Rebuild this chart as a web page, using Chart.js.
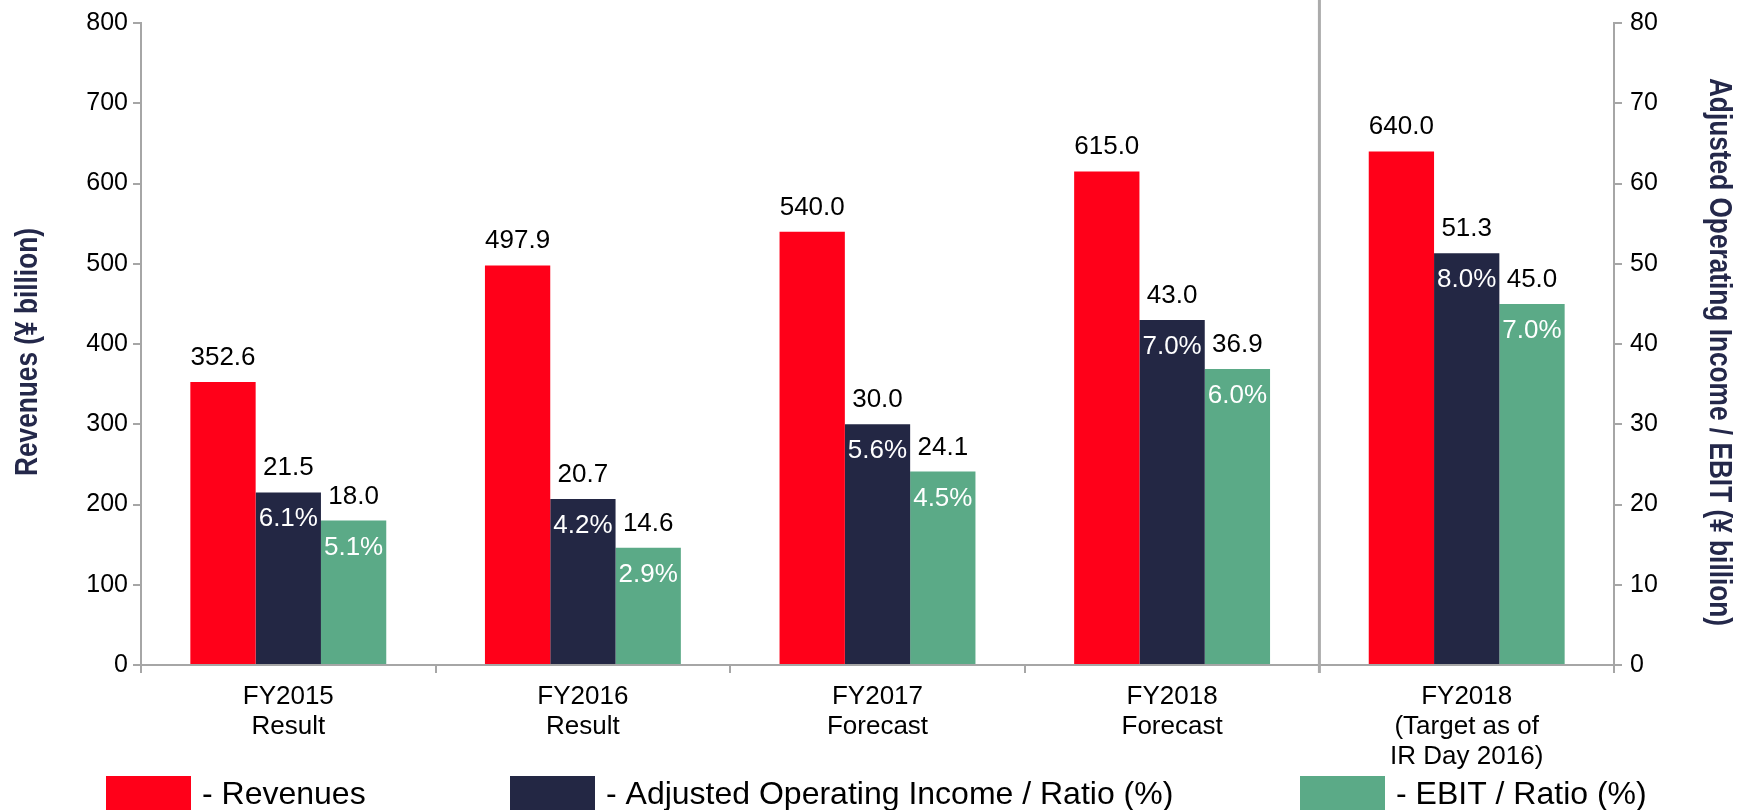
<!DOCTYPE html>
<html>
<head>
<meta charset="utf-8">
<script src="https://cdn.jsdelivr.net/npm/chart.js@4/dist/chart.umd.min.js"></script>
<style>
  body { margin: 0; background: #fff; }
  canvas { display: block; }
</style>
</head>
<body>
<canvas id="revChart" width="1743" height="810"></canvas>
<script>
// Chart data
const categories = [
    ['FY2015', 'Result'],
    ['FY2016', 'Result'],
    ['FY2017', 'Forecast'],
    ['FY2018', 'Forecast'],
    ['FY2018', '(Target as of', 'IR Day 2016)']
];
const revenues = [352.6, 497.9, 540.0, 615.0, 640.0];
const adjOperatingIncome = [21.5, 20.7, 30.0, 43.0, 51.3];
const ebit = [18.0, 14.6, 24.1, 36.9, 45.0];
const adjRatio = [6.1, 4.2, 5.6, 7.0, 8.0];
const ebitRatio = [5.1, 2.9, 4.5, 6.0, 7.0];
const legendLabels = ['- Revenues', '- Adjusted Operating Income / Ratio (%)', '- EBIT / Ratio (%)'];
const leftTitle = 'Revenues (¥ billion)';
const rightTitle = 'Adjusted Operating Income / EBIT (¥ billion)';

const FONT = '"Liberation Sans", Arial, sans-serif';
const AXIS_GREY = '#A6A6A6';
const TITLE_NAVY = '#24284A';

Chart.defaults.font.family = FONT;
Chart.defaults.color = '#000';

// Value labels above bars, ratios inside bar tops
const barLabels = {
    id: 'barLabels',
    afterDatasetsDraw(chart) {
        const ctx = chart.ctx;
        ctx.save();
        ctx.font = '26px ' + FONT;
        ctx.textAlign = 'center';
        ctx.textBaseline = 'alphabetic';
        chart.data.datasets.forEach((ds, i) => {
            const meta = chart.getDatasetMeta(i);
            meta.data.forEach((bar, j) => {
                ctx.fillStyle = '#000';
                ctx.fillText(ds.data[j].toFixed(1), bar.x, bar.y - 17);
                if (ds.ratios) {
                    ctx.fillStyle = '#fff';
                    ctx.fillText(ds.ratios[j].toFixed(1) + '%', bar.x, bar.y + 34);
                }
            });
        });
        ctx.restore();
    }
};

// Separator, narrow axis titles and bottom legend
const decorations = {
    id: 'decorations',
    afterDraw(chart) {
        const ctx = chart.ctx;
        const x = chart.scales.x;
        const area = chart.chartArea;
        ctx.save();

        // vertical separator before the target column
        const sepX = (x.getPixelForValue(3) + x.getPixelForValue(4)) / 2;
        ctx.strokeStyle = '#ABABAB';
        ctx.lineWidth = 3;
        ctx.beginPath();
        ctx.moveTo(sepX, 0);
        ctx.lineTo(sepX, area.bottom + 8);
        ctx.stroke();

        // axis titles (condensed bold)
        const midY = (area.top + area.bottom) / 2 + 8;
        ctx.fillStyle = TITLE_NAVY;
        ctx.font = 'bold 32px ' + FONT;
        ctx.textAlign = 'center';
        ctx.textBaseline = 'alphabetic';

        ctx.save();
        ctx.translate(37, midY);
        ctx.rotate(-Math.PI / 2);
        ctx.scale(0.82, 1);
        ctx.fillText(leftTitle, 0, 0);
        ctx.restore();

        ctx.save();
        ctx.translate(1710, midY);
        ctx.rotate(Math.PI / 2);
        ctx.scale(0.82, 1);
        ctx.fillText(rightTitle, 0, 0);
        ctx.restore();

        // legend
        const boxLeft = [106, 510, 1300];
        ctx.font = '32px ' + FONT;
        ctx.textAlign = 'left';
        chart.data.datasets.forEach((ds, i) => {
            ctx.fillStyle = ds.backgroundColor;
            ctx.fillRect(boxLeft[i], 776, 85, 40);
            ctx.fillStyle = '#000';
            ctx.fillText(legendLabels[i], boxLeft[i] + 96, 804);
        });
        ctx.restore();
    }
};

const ctx = document.getElementById('revChart').getContext('2d');
new Chart(ctx, {
    type: 'bar',
    data: {
        labels: categories,
        datasets: [
            {
                label: legendLabels[0],
                data: revenues,
                backgroundColor: '#FF0019',
                yAxisID: 'y'
            },
            {
                label: legendLabels[1],
                data: adjOperatingIncome,
                ratios: adjRatio,
                backgroundColor: '#232744',
                yAxisID: 'y1'
            },
            {
                label: legendLabels[2],
                data: ebit,
                ratios: ebitRatio,
                backgroundColor: '#5BAA87',
                yAxisID: 'y1'
            }
        ]
    },
    options: {
        responsive: false,
        animation: false,
        categoryPercentage: 0.665,
        barPercentage: 1,
        layout: {
            padding: { top: 22 }
        },
        plugins: {
            legend: { display: false },
            tooltip: { enabled: false }
        },
        scales: {
            x: {
                grid: {
                    display: true,
                    drawOnChartArea: false,
                    drawTicks: true,
                    tickLength: 8,
                    offset: true,
                    color: AXIS_GREY,
                    lineWidth: 2
                },
                border: { display: true, color: AXIS_GREY, width: 2 },
                ticks: {
                    font: { size: 26, lineHeight: 1.15 },
                    padding: 9,
                    maxRotation: 0,
                    autoSkip: false
                },
                afterFit(scale) { scale.height = 145; }
            },
            y: {
                position: 'left',
                min: 0,
                max: 800,
                grid: {
                    drawOnChartArea: false,
                    tickLength: 8,
                    color: AXIS_GREY,
                    lineWidth: 2
                },
                border: { display: true, color: AXIS_GREY, width: 2 },
                ticks: {
                    stepSize: 100,
                    font: { size: 25 },
                    padding: 5
                },
                afterFit(scale) { scale.width = 141; }
            },
            y1: {
                position: 'right',
                min: 0,
                max: 80,
                grid: {
                    drawOnChartArea: false,
                    tickLength: 8,
                    color: AXIS_GREY,
                    lineWidth: 2
                },
                border: { display: true, color: AXIS_GREY, width: 2 },
                ticks: {
                    stepSize: 10,
                    font: { size: 25 },
                    padding: 8
                },
                afterFit(scale) { scale.width = 129; }
            }
        }
    },
    plugins: [barLabels, decorations]
});
</script>
</body>
</html>
